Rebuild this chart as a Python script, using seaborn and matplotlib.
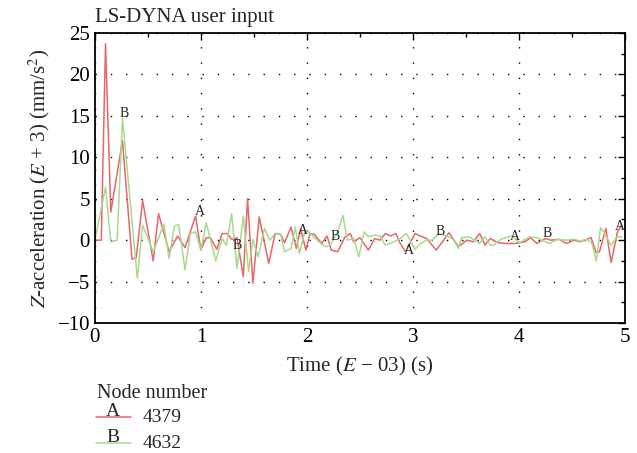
import seaborn as sns
import matplotlib.pyplot as plt
import pandas as pd
from matplotlib.lines import Line2D

# Node 4379 (curve A, red)
time_a = [0, 0.06, 0.10, 0.15, 0.26, 0.35, 0.39, 0.45, 0.55, 0.60, 0.70, 0.78, 0.85, 0.95,
          1.00, 1.05, 1.09, 1.15, 1.20, 1.25, 1.29, 1.34, 1.40, 1.44, 1.49, 1.55, 1.64, 1.70,
          1.75, 1.79, 1.85, 1.90, 1.94, 1.99, 2.03, 2.07, 2.14, 2.19, 2.23, 2.29, 2.36, 2.41,
          2.44, 2.50, 2.58, 2.64, 2.69, 2.74, 2.79, 2.84, 2.88, 2.93, 3.02, 3.07, 3.13, 3.22,
          3.29, 3.34, 3.43, 3.51, 3.57, 3.63, 3.68, 3.73, 3.80, 3.87, 3.96, 4.06, 4.11, 4.17,
          4.25, 4.30, 4.38, 4.45, 4.52, 4.58, 4.64, 4.68, 4.73, 4.76, 4.82, 4.87, 4.93, 4.97]
accel_a = [0, 0, 23.7, 3.4, 12.0, -2.3, -2.1, 4.8, -2.5, 3.2, -1.4, 0.5, -0.9, 2.9,
           -1.2, 0.3, 0.3, -1.1, 0.8, 0.8, 0.1, 0.3, -4.4, 5.0, -5.2, 2.8, -2.8, 0.8,
           0.7, -0.3, 1.6, -1.0, 1.4, -1.2, 0.8, 0.7, -0.4, 0.5, -1.2, -1.4, 0.4, 0.8,
           -0.2, 0.3, -1.2, 0.2, 0.0, 0.8, 0.5, 0.8, -0.4, -1.4, 0.8, 0.5, 0.2, -1.2,
           0.0, 0.9, -0.8, 0.0, -0.2, 0.8, -0.6, 0.2, -0.3, -0.4, -0.4, -0.2, 0.3, -0.4,
           0.2, 0.0, 0.1, -0.4, 0.0, -0.2, 0.1, 0.3, -1.5, -1.4, 1.4, -2.7, 1.0, 1.8]

# Node 4632 (curve B, green)
time_b = [0, 0.10, 0.15, 0.21, 0.26, 0.40, 0.45, 0.55, 0.65, 0.70, 0.75, 0.79, 0.85, 0.90,
          0.95, 1.00, 1.05, 1.14, 1.20, 1.24, 1.29, 1.34, 1.40, 1.45, 1.49, 1.54, 1.60, 1.65,
          1.70, 1.75, 1.79, 1.85, 1.89, 1.93, 1.98, 2.02, 2.08, 2.14, 2.19, 2.23, 2.29, 2.34,
          2.38, 2.44, 2.49, 2.54, 2.58, 2.64, 2.69, 2.74, 2.79, 2.88, 2.94, 3.02, 3.07, 3.13,
          3.18, 3.25, 3.32, 3.38, 3.43, 3.46, 3.53, 3.63, 3.68, 3.73, 3.76, 3.83, 3.93, 4.01,
          4.10, 4.17, 4.25, 4.29, 4.36, 4.45, 4.52, 4.58, 4.64, 4.69, 4.73, 4.77, 4.80, 4.87,
          4.92, 4.97]
accel_b = [0, 6.4, -0.2, 0.0, 14.7, -4.6, 1.8, -1.4, 1.9, -2.2, 1.7, 1.9, -3.6, 0.8,
           1.0, -1.2, 2.1, -2.5, 0.2, -0.6, 3.2, -3.4, 2.9, -3.8, 0.1, -2.0, 1.4, 0.0,
           0.8, 0.8, -1.4, -1.0, 1.6, -1.6, 1.0, 1.0, 0.2, -0.5, -0.8, -0.4, 1.0, 3.0,
           0.0, 0.2, -2.0, 1.0, 0.4, 0.6, 0.5, -0.6, -0.4, 0.2, 0.8, -1.1, -0.4, 0.0,
           0.0, 0.8, 0.5, 0.1, -1.0, 0.3, 0.4, -0.4, 0.4, -0.6, -0.6, 0.1, 0.5, -0.3,
           0.4, 0.3, -0.2, -0.4, 0.1, 0.0, 0.1, -0.1, 0.1, -0.4, -2.5, 1.5, 1.0, -0.6,
           0.3, 0.4]

# letter markers drawn along the curves
mark_a_t = [0.99, 1.96, 2.96, 3.96, 4.95]
mark_a_v = [3.5, 1.2, -1.2, 0.4, 1.6]
mark_b_t = [0.28, 1.34, 2.27, 3.26, 4.27]
mark_b_v = [15.3, -0.7, 0.5, 1.0, 0.8]

node_labels = ['4379', '4632']
red = '#e8666c'
green = '#a9d98e'

df_a = pd.DataFrame({'t': time_a, 'v': accel_a})
df_b = pd.DataFrame({'t': time_b, 'v': accel_b})

sns.set_style('white')
plt.rcParams['font.family'] = ['Liberation Serif', 'DejaVu Serif']
plt.rcParams['mathtext.fontset'] = 'stix'

fig = plt.figure(figsize=(6.37, 4.53), dpi=100)
ax = fig.add_axes([0.149, 0.287, 0.832, 0.64])

sns.lineplot(data=df_a, x='t', y='v', color=red, lw=1.1, ax=ax, sort=False)
sns.lineplot(data=df_b, x='t', y='v', color=green, lw=1.1, ax=ax, sort=False)

for t, v in zip(mark_a_t, mark_a_v):
    ax.text(t, v, 'A', fontsize=10, ha='center', va='center')
for t, v in zip(mark_b_t, mark_b_v):
    ax.text(t, v, 'B', fontsize=10, ha='center', va='center')

ax.set_xlim(0, 5)
ax.set_ylim(-10, 25)
ax.set_xticks(range(0, 6))
ax.set_yticks(range(-10, 26, 5))
ax.set_xticks([i * 0.5 for i in range(11)], minor=True)
ax.set_yticks([i * 2.5 - 10 for i in range(15)], minor=True)
ax.tick_params(which='both', direction='in', top=True, right=True, labelsize=15, colors='black')
ax.tick_params(which='major', length=5, width=1)
ax.tick_params(which='minor', length=3, width=1)
ax.grid(True, color='black', linestyle=(0, (1, 10)), linewidth=1)
for s in ax.spines.values():
    s.set_color('black')
    s.set_linewidth(1.3)

ax.set_xlabel('Time ($E$ − 03) (s)', fontsize=15, labelpad=6)
ax.set_ylabel('$Z$-acceleration ($E$ + 3) (mm/s$^2$)', fontsize=15, labelpad=4)
ax.set_title('LS-DYNA user input', fontsize=15, loc='left', pad=8)

# legend below the chart
W, H = 637, 453
fig.text(97 / W, 1 - 394 / H, 'Node number', fontsize=14.5, va='center', ha='left')
for row, (col, letter, lab) in enumerate(zip([red, green], ['A', 'B'], node_labels)):
    y = 1 - (417 + 26 * row) / H
    fig.add_artist(Line2D([96 / W, 131 / W], [y, y], color=col, lw=1.1))
    fig.text(113 / W, y + 6 / H, letter, fontsize=14, ha='center', va='center')
    fig.text(143 / W, y - 1 / H, lab, fontsize=14, ha='left', va='center')

fig.savefig('out.png', dpi=100)
